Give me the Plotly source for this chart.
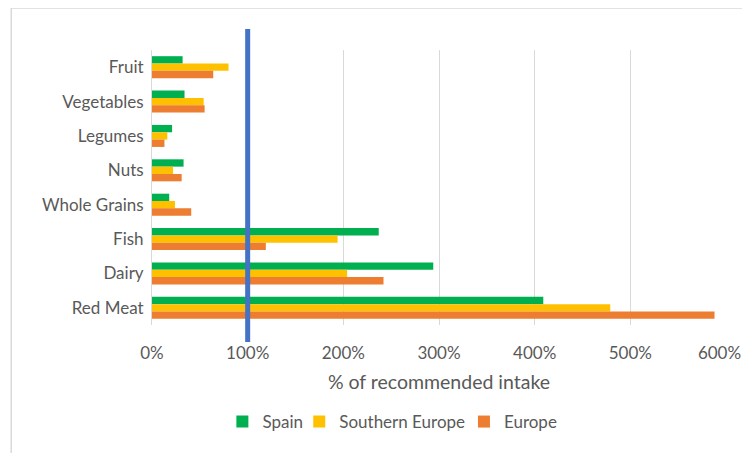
import plotly.graph_objects as go

categories = ["Fruit", "Vegetables", "Legumes", "Nuts", "Whole Grains", "Fish", "Dairy", "Red Meat"]
spain = [32, 34, 21, 33, 18, 237, 294, 409]
southern_europe = [80, 54, 16, 22, 24, 194, 204, 479]
europe = [64, 55, 13, 31, 41, 119, 242, 588]
series_names = ["Spain", "Southern Europe", "Europe"]
colors = ["#00B050", "#FFC000", "#ED7D31"]
reference_value = 100
x_ticks = [0, 100, 200, 300, 400, 500, 600]
x_tick_labels = ["0%", "100%", "200%", "300%", "400%", "500%", "600%"]

FONT = "Lato"
GRAY = "#595959"

# page body has an 8px margin; lay the figure out in page coordinates minus that
OFF = 8
PL, PR, PT, PB = 151.5, 726.5, 50, 325   # plot area in page pixels
W, H = 750 - OFF, 453 - OFF
pw, ph = PR - PL, PB - PT

def px(xp):
    return (xp - PL) / pw

def py(yp):
    return (PB - yp) / ph

legend_names = ["legend", "legend2", "legend3"]
legend_x = [222, 299, 464]

# keep the last tick label inside the visible page (trailing no-break spaces nudge it left)
tick_text = list(x_tick_labels)
tick_text[-1] = tick_text[-1] + "\u00a0\u00a0\u00a0"

fig = go.Figure()
for name, vals, col, lg in zip(series_names, [spain, southern_europe, europe], colors, legend_names):
    fig.add_trace(go.Bar(y=categories, x=vals, name=name, orientation="h", legend=lg,
                         marker=dict(color=col, line=dict(width=0))))

legend_common = dict(orientation="h", xanchor="left", y=py(422), yanchor="middle",
                     font=dict(size=17, color=GRAY, family=FONT), itemwidth=30,
                     bgcolor="rgba(0,0,0,0)")

fig.update_layout(
    width=W, height=H,
    margin=dict(l=PL - OFF, r=W - (PR - OFF), t=PT - OFF, b=H - (PB - OFF), autoexpand=False),
    paper_bgcolor="white", plot_bgcolor="white",
    barmode="group", bargap=0.36, bargroupgap=0,
    font=dict(family=FONT, color=GRAY, size=17),
    xaxis=dict(range=[0, 600], tickvals=x_ticks, ticktext=tick_text,
               automargin=False, ticklabeloverflow="allow",
               showgrid=True, gridcolor="#d9d9d9", gridwidth=1, zeroline=False,
               showline=False, ticks="outside", ticklen=13, tickcolor="rgba(0,0,0,0)",
               tickfont=dict(size=17, color=GRAY, family=FONT),
               title=dict(text="% of recommended intake", font=dict(size=19.5, color=GRAY, family=FONT), standoff=12)),
    yaxis=dict(autorange="reversed", showgrid=False, zeroline=False, automargin=False,
               showline=True, linecolor="#d9d9d9", linewidth=1,
               ticks="outside", ticklen=4, tickcolor="rgba(0,0,0,0)",
               tickfont=dict(size=17, color=GRAY, family=FONT)),
    showlegend=True,
    legend=dict(x=px(legend_x[0]), **legend_common),
    legend2=dict(x=px(legend_x[1]), **legend_common),
    legend3=dict(x=px(legend_x[2]), **legend_common),
    shapes=[
        dict(type="line", xref="x", yref="paper", x0=reference_value, x1=reference_value,
             y0=py(342), y1=py(29), line=dict(color="#4472C4", width=5)),
        dict(type="rect", xref="paper", yref="paper", x0=px(10.5), x1=px(800),
             y0=py(500), y1=py(8), line=dict(color="#d9d9d9", width=1.5), layer="below"),
    ],
)

fig.write_html("out.html")
